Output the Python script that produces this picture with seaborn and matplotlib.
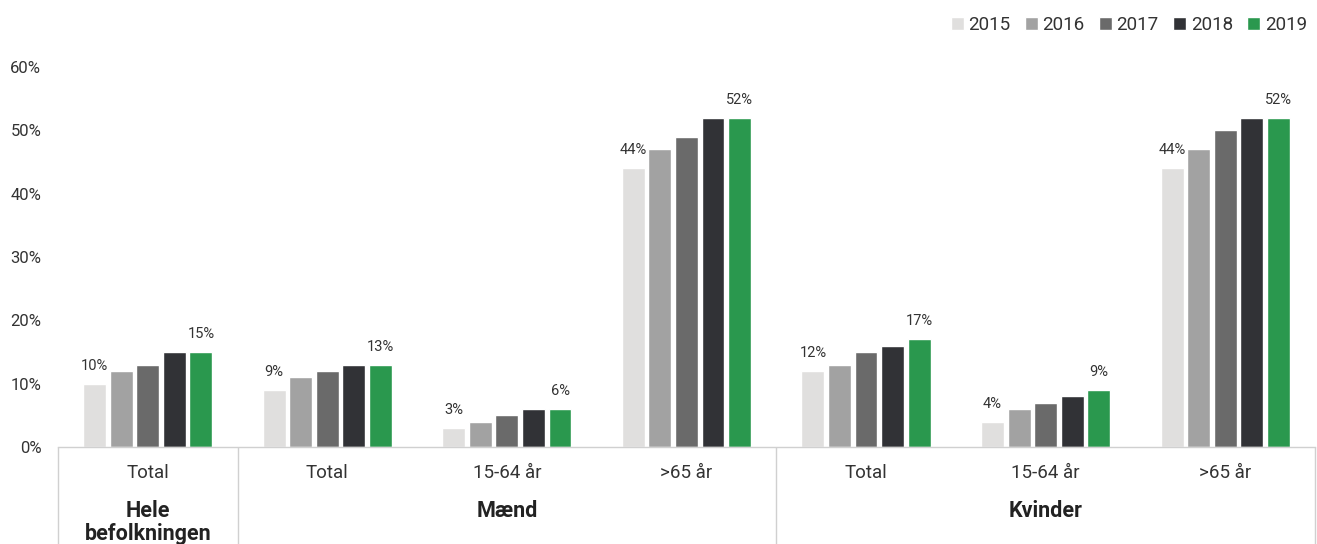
import pandas as pd
import numpy as np
import matplotlib.pyplot as plt
import seaborn as sns
from matplotlib.ticker import PercentFormatter

# data
kategorier = ['Total', 'Total', '15-64 år', '>65 år', 'Total', '15-64 år', '>65 år']
grupper = ['Hele\nbefolkningen', 'Mænd', 'Kvinder']
aar = ['2015', '2016', '2017', '2018', '2019']
v2015 = [10, 9, 3, 44, 12, 4, 44]
v2016 = [12, 11, 4, 47, 13, 6, 47]
v2017 = [13, 12, 5, 49, 15, 7, 50]
v2018 = [15, 13, 6, 52, 16, 8, 52]
v2019 = [15, 13, 6, 52, 17, 9, 52]
farver = ['#E0DFDE', '#A2A2A2', '#6A6A6A', '#313236', '#2A984E']

rows = []
for a, vals in zip(aar, [v2015, v2016, v2017, v2018, v2019]):
    for i, v in enumerate(vals):
        rows.append({'pos': i, 'aar': a, 'andel': v / 100})
df = pd.DataFrame(rows)

sns.set_style('white')
plt.rcParams['font.family'] = ['Roboto', 'DejaVu Sans']
tekst = '#333333'

fig = plt.figure(figsize=(13.17, 5.44), dpi=100)
ax = fig.add_axes([0.044, 0.178, 0.9545, 0.699])

sns.barplot(data=df, x='pos', y='andel', hue='aar', palette=farver,
            width=0.74, gap=0.14, ax=ax, saturation=1, errorbar=None)

ax.set_ylim(0, 0.6)
ax.set_xlim(-0.5, 6.5)
ax.yaxis.set_major_formatter(PercentFormatter(1.0, decimals=0))
ax.set_yticks(np.arange(0, 0.61, 0.1))
ax.set_xticks(range(7))
ax.set_xticklabels(kategorier)
ax.set_xlabel('')
ax.set_ylabel('')
ax.tick_params(axis='y', length=0, pad=12, labelsize=12, labelcolor=tekst)
ax.tick_params(axis='x', length=0, pad=12, labelsize=13.5, labelcolor=tekst)
for s in ['top', 'right', 'left']:
    ax.spines[s].set_visible(False)
ax.spines['bottom'].set_color('#d0d0d0')
ax.spines['bottom'].set_linewidth(1)

# labels on first and last year
ax.bar_label(ax.containers[0], fmt=lambda v: f'{v:.0%}', padding=8,
             fontsize=10.5, color=tekst)
ax.bar_label(ax.containers[-1], fmt=lambda v: f'{v:.0%}', padding=8,
             fontsize=10.5, color=tekst)

# group separators and group names
ax.vlines([-0.5, 0.5, 3.5, 6.5], -0.3, 0, transform=ax.get_xaxis_transform(),
          colors='#d0d0d0', linewidth=1, clip_on=False)
for x, g in zip([0, 2, 5], grupper):
    ax.text(x, -0.14, g, transform=ax.get_xaxis_transform(), ha='center', va='top',
            fontsize=15.5, fontweight='bold', color='#222222', linespacing=1.05)

ax.legend(loc='upper right', bbox_to_anchor=(0.998, 0.985), bbox_transform=fig.transFigure,
          ncol=5, frameon=False, fontsize=13.5, handlelength=0.7, handleheight=0.7,
          handletextpad=0.25, columnspacing=0.75, labelcolor=tekst, borderaxespad=0)

fig.savefig('out.png', dpi=100)
